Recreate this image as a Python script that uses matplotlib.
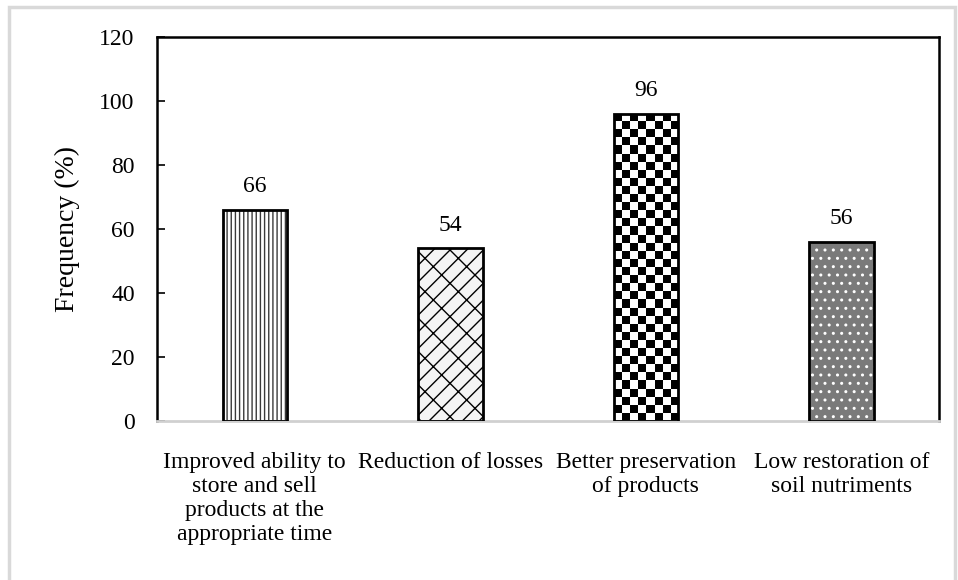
import numpy as np
import matplotlib
matplotlib.use('Agg')
import matplotlib.pyplot as plt
from matplotlib.patches import Rectangle

categories = ['Improved ability to\nstore and sell\nproducts at the\nappropriate time',
              'Reduction of losses',
              'Better preservation\nof products',
              'Low restoration of\nsoil nutriments']
values = [66, 54, 96, 56]
y_ticks = [0, 20, 40, 60, 80, 100, 120]

plt.rcParams['font.family'] = ['Liberation Serif', 'DejaVu Serif']
plt.rcParams['hatch.linewidth'] = 1.0

fig = plt.figure(figsize=(9.58, 5.8), dpi=100)
ax = fig.add_axes([0.1639, 0.2741, 0.8163, 0.6621])

# outer light grey frame around the chart area
fig.patches.append(Rectangle((9 / 958, -0.01), 946 / 958, 1 - 7 / 580 + 0.01,
                             transform=fig.transFigure, fill=False,
                             edgecolor='#d9d9d9', linewidth=2.5))

x = np.arange(len(values))
w = 0.33

# bar 1: vertical stripes
ax.bar(x[0], values[0], w, facecolor='white', edgecolor='#3a3a3a', hatch='||||', linewidth=0)
# bar 2: diagonal brick
ax.bar(x[1], values[1], w, facecolor='#f4f4f4', edgecolor='black', hatch='//\\', linewidth=0)
# bar 3: checkerboard drawn as an image clipped to the bar
b3 = ax.bar(x[2], values[2], w, facecolor='white', linewidth=0)[0]
nx, ny = 8, 38
checker = (np.indices((ny, nx)).sum(axis=0) % 2).astype(float)
checker = np.kron(checker, np.ones((8, 8)))
im = ax.imshow(checker, cmap='gray', vmin=0, vmax=1, interpolation='nearest',
               aspect='auto', extent=(x[2] - w / 2, x[2] + w / 2, 0, values[2]), zorder=2)
im.set_clip_path(b3)
# bar 4: grey stipple with white dots
ax.bar(x[3], values[3], w, facecolor='#7a7a7a', edgecolor='white', hatch='..', linewidth=0)

# black outlines
ax.bar(x, values, w, facecolor='none', edgecolor='black', linewidth=2, zorder=3)

for xi, v in zip(x, values):
    ax.annotate(str(v), (xi, v), xytext=(0, 9), textcoords='offset points',
                ha='center', va='bottom', fontsize=17)

ax.set_xlim(-0.5, 3.5)
ax.set_ylim(0, 120)
ax.set_yticks(y_ticks)
ax.tick_params(axis='y', direction='in', length=6, width=1.2, labelsize=17, pad=16)
ax.set_xticks(x)
ax.set_xticklabels(categories, fontsize=17, linespacing=1.2)
ax.tick_params(axis='x', length=0, pad=22)
ax.set_ylabel('Frequency (%)', fontsize=20, labelpad=14)

for s in ['left', 'top', 'right']:
    ax.spines[s].set_linewidth(1.8)
    ax.spines[s].set_color('black')
ax.spines['bottom'].set_linewidth(2)
ax.spines['bottom'].set_color('#d0d0d0')

fig.savefig('out.png', dpi=100)
